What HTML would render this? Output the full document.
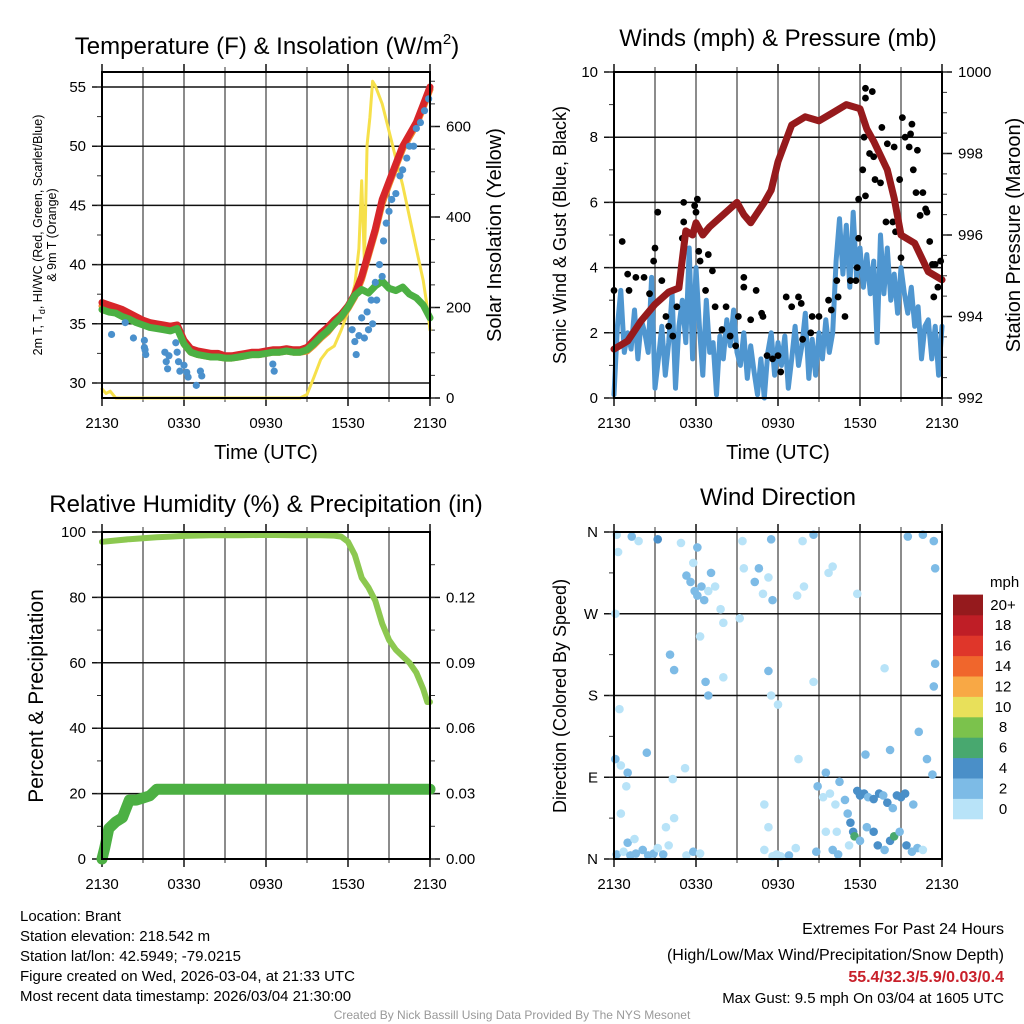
<!DOCTYPE html>
<html><head><meta charset="utf-8"><style>
html,body{margin:0;padding:0;background:#fff;}
svg{display:block;font-family:"Liberation Sans",sans-serif;}
</style></head><body>
<svg id="c" width="1024" height="1024" viewBox="0 0 1024 1024" xmlns="http://www.w3.org/2000/svg">
<g id="g"></g>
<text x="267" y="54" font-size="24" text-anchor="middle">Temperature (F) &amp; Insolation (W/m<tspan font-size="15" dy="-10">2</tspan><tspan dy="10">)</tspan></text>
<text x="778" y="46" font-size="24" text-anchor="middle">Winds (mph) &amp; Pressure (mb)</text>
<text x="266" y="512" font-size="24" text-anchor="middle">Relative Humidity (%) &amp; Precipitation (in)</text>
<text x="778" y="505" font-size="24" text-anchor="middle">Wind Direction</text>
<text transform="translate(42,235) rotate(-90)" font-size="12.5" text-anchor="middle">2m T, T<tspan font-size="9" dy="3">d</tspan><tspan dy="-3">, HI/WC (Red, Green, Scarlet/Blue)</tspan></text>
<text transform="translate(56,235) rotate(-90)" font-size="12.5" text-anchor="middle">&amp; 9m T (Orange)</text>
<text transform="translate(501,235) rotate(-90)" font-size="20" text-anchor="middle">Solar Insolation (Yellow)</text>
<text transform="translate(566,235) rotate(-90)" font-size="18" text-anchor="middle">Sonic Wind &amp; Gust (Blue, Black)</text>
<text transform="translate(1020,235) rotate(-90)" font-size="20" text-anchor="middle">Station Pressure (Maroon)</text>
<text transform="translate(43,696) rotate(-90)" font-size="21" text-anchor="middle">Percent &amp; Precipitation</text>
<text transform="translate(566,696) rotate(-90)" font-size="18" text-anchor="middle">Direction (Colored By Speed)</text>
<text x="266" y="459" font-size="20" text-anchor="middle">Time (UTC)</text>
<text x="778" y="459" font-size="20" text-anchor="middle">Time (UTC)</text>
<text x="990" y="587" font-size="15" text-anchor="start">mph</text>
<g font-size="15">
<text x="20" y="921">Location: Brant</text>
<text x="20" y="941">Station elevation: 218.542 m</text>
<text x="20" y="961">Station lat/lon: 42.5949; -79.0215</text>
<text x="20" y="981">Figure created on Wed, 2026-03-04, at 21:33 UTC</text>
<text x="20" y="1001">Most recent data timestamp: 2026/03/04 21:30:00</text>
</g>
<g font-size="16" text-anchor="end">
<text x="1004" y="934">Extremes For Past 24 Hours</text>
<text x="1004" y="960">(High/Low/Max Wind/Precipitation/Snow Depth)</text>
<text x="1004" y="982" fill="#c8202a" font-weight="bold">55.4/32.3/5.9/0.03/0.4</text>
<text x="1004" y="1003" font-size="15">Max Gust: 9.5 mph On 03/04 at 1605 UTC</text>
</g>
<text x="512" y="1019" font-size="12" fill="#999" text-anchor="middle">Created By Nick Bassill Using Data Provided By The NYS Mesonet</text>
</svg>
<script>
// ---- data (hours since 2130 UTC) ----
const timeTicks=["2130","0330","0930","1530","2130"];
const tempHours=[0,0.5,1,1.5,2,2.5,3,3.5,4,4.5,5,5.5,6,6.5,7,7.5,8,8.5,9,9.5,10,10.5,11,11.5,12,12.5,13,13.5,14,14.5,15,15.5,16,16.5,17,17.5,18,18.5,19,19.5,20,20.5,21,21.5,22,22.5,23,23.5,24];
const tempRed=[36.8,36.6,36.4,36.2,35.9,35.6,35.3,35.1,35,34.9,34.8,34.9,33.6,32.9,32.7,32.6,32.5,32.5,32.3,32.3,32.4,32.5,32.6,32.6,32.7,32.8,32.8,32.9,32.8,32.8,33.0,33.6,34.2,34.7,35.3,35.8,36.5,37.5,39,41,43,45.5,47,48.5,50,51,52,53.5,55];
const tempOrange=[36.5,36.3,36.1,35.9,35.6,35.3,35.1,34.9,34.8,34.7,34.6,34.7,33.3,32.6,32.4,32.3,32.2,32.2,32.1,32.1,32.2,32.3,32.4,32.4,32.5,32.6,32.6,32.7,32.6,32.6,32.7,33.2,33.8,34.3,35.0,35.5,36.3,37.3,38.8,40.8,42.8,45.2,46.8,48.3,49.8,50.8,51.8,53.3,54.8];
const tempGreen=[36.2,36.0,35.9,35.6,35.4,35.1,34.9,34.7,34.6,34.5,34.4,34.6,33.3,32.6,32.4,32.3,32.2,32.2,32.1,32.1,32.2,32.3,32.4,32.4,32.5,32.6,32.6,32.7,32.6,32.6,32.8,33.3,33.9,34.4,35.0,35.6,36.4,37.4,37.9,37.6,38.2,38.6,38.0,37.8,38.1,37.5,37.2,36.6,35.5];
const chillHours=[0.7,1.7,2.3,3.1,3.1,3.2,3.15,4.6,4.7,4.8,4.9,5.4,5.5,5.6,5.7,6.0,6.2,6.3,6.9,7.3,7.2,12.5,12.6,18.3,18.5,18.6,18.8,19.0,19.2,19.4,19.5,19.7,19.8,20.0,20.1,20.3,20.5,20.6,20.8,21,21.2,21.5,21.8,22,22.3,22.5,22.8,23,23.3,23.6,23.9];
const chillVals=[34.1,35.1,33.8,33.6,33.0,32.4,32.8,32.6,31.8,31.2,32.3,33.4,32.6,31.8,31.0,31.5,30.9,30.5,29.8,30.6,31.0,31.6,31.0,34.5,33.5,32.4,34,35.5,33.8,36,34.5,37,35,38.5,37,40,39,42,43.5,44.5,45.5,46,47.5,48,49,50,50,51.5,52,53,54];
const insolHours=[0,0.3,0.6,1,14.5,15,15.5,16,16.5,17,17.5,18,18.5,18.8,19,19.2,19.4,19.6,19.8,20,20.5,21,21.5,22,22.5,23,23.5,23.8,24];
const insolVals=[20,10,15,0,0,8,45,85,105,115,150,190,250,330,480,300,560,620,700,690,650,590,530,470,400,330,260,200,150];
const windVals=[0.1,2.2,3.3,1.4,2,1.5,2.7,1.2,2.4,2,1.4,3.7,0.3,1.2,2.2,0.7,1.7,3.2,0.3,2.2,3,1.7,4.6,1.2,4,2.2,0.7,3,1.4,1.7,0.1,1.9,1.2,2.4,1.6,2.7,1.4,1,2,0.6,1.6,0.8,0.1,1.2,0,1.4,2,0.7,1.7,1,1.9,0.3,1.2,2.2,1,1.6,2.6,0.6,1.8,0.7,2,1.2,2.4,1.4,2,4.2,5.5,3.8,5.3,3.4,5.7,3.7,4.6,3.4,4.4,3.2,4.2,1.7,5,3.2,4.6,3,3.8,2.6,4,3.2,2.6,3.4,2.2,2.8,1.2,2.2,2.4,1.2,2.2,0.7,2.2];
const gustHours=[0,0.6,1,1.6,1.1,2.2,2.6,3,3.2,2.9,3.5,3.8,4,4.3,4.6,5.1,5.1,5,5.9,6.1,6,6.2,6.3,6.9,7.2,6.7,7.4,8.2,7.9,8.5,8.9,9.1,9.5,9.5,10,10.4,10.8,10.9,11.2,11.6,12,12.2,12.6,13,13.5,13.7,13.8,14.5,15,14.4,15.7,15.9,16.3,16.4,16.9,17.3,17.7,17.8,17.9,17.9,18.2,18.3,18.4,18.7,18.4,18.4,18.9,19,19.1,19.5,19.6,20,19.9,20.4,20.5,20.6,20.9,21,21.1,21.3,21.6,21.7,21.8,22.2,21.9,22.1,22.6,22.4,22.8,22.9,23.1,23.3,23.5,23.7,23.4,23.9];
const gustVals=[3.3,4.8,3.8,3.7,3.3,3.7,3.2,4.6,5.7,4.2,3.6,2.5,2.2,1.9,2.8,6,5.4,4.9,5.9,6.1,5.7,4.5,4.2,4.4,3.9,3.3,2.8,2.8,2.1,1.9,1.6,2.5,3.7,3.4,2.4,3.3,2.6,2.5,1.3,1.2,1.3,0.8,3.1,2.8,3.1,2.9,1.8,2.5,2.5,2,3,2.7,3.6,3.1,2.5,3.6,3.6,4,4.9,6.1,7,8,6.2,7.5,9.2,9.5,9.4,7.4,6.7,6.6,8.3,7.8,5.4,5.4,7.7,5.1,6.7,4.3,8.6,8,7.7,8.1,8.4,7.6,7,6.3,6.3,5.6,5.8,5.7,4.8,4.1,4.1,3.4,3.1,4.2];
const presHours=[0,1,2,3,4,4.75,5,5.25,5.75,6,6.5,7,8,9,9.5,10,11,11.5,12,13,14,15,16,17,18,18.5,19,20,20.5,21,22,23,24];
const presVals=[993.2,993.4,993.9,994.3,994.6,994.7,995.4,996.1,996,996.3,996,996.2,996.5,996.8,996.5,996.3,996.8,997.1,997.8,998.7,998.9,998.8,999,999.2,999.1,998.6,998.3,997.6,996.9,996,995.8,995.1,994.9];
const rhHours=[0,1,2,3,4,5,6,8,10,12,14,16,17,17.5,18,18.5,19,19.5,20,20.5,21,21.5,22,22.5,23,23.5,23.8,24];
const rhVals=[97,97.4,97.8,98.1,98.4,98.6,98.8,99,99,99.1,99,99,98.9,98.6,97,93,86,83,79,72,67,64,62,60,57,52,48,48];
const precipHours=[0,0.2,0.5,1,1.5,2,2.5,3,3.5,4,24];
const precipVals=[0,0.005,0.014,0.017,0.019,0.027,0.027,0.028,0.029,0.032,0.032];
const dirHours=[0.2,1.3,1.8,3.2,4.9,6.1,9.4,11.5,13.8,14.6,21.5,22.6,23.4,0.3,5.8,9.5,5.3,5.6,5.9,6.1,6.4,6.6,6.9,7.1,7.4,7.8,8.0,10.3,10.6,10.9,11.3,11.6,13.4,13.9,15.7,16.0,17.8,23.5,0.1,9.2,6.3,4.4,4.1,6.7,6.9,8.0,11.3,11.5,12.0,23.4,23.5,14.6,19.8,0.4,0.1,0.5,1.0,0.9,2.4,4.3,5.2,13.5,15.5,18.4,20.2,22.9,23.3,22.3,21.9,14.9,15.3,15.8,16.2,16.5,16.9,17.1,17.3,17.5,17.8,18.0,18.3,18.6,19.0,19.4,19.7,20.0,20.4,20.7,21.0,21.3,17.6,18.0,18.5,19.0,19.3,19.8,20.2,20.5,20.9,21.4,21.8,22.2,22.6,16.0,14.8,16.4,17.2,15.5,0.2,0.7,1.2,1.6,2.1,2.5,2.9,3.2,3.6,1.0,1.5,3.8,4.0,5.3,5.8,6.3,4.4,0.5,11.0,11.6,11.9,12.2,11.3,11.0,12.8,13.3,16.3];
const dirDeg=[357,355,350,352,348,343,350,352,350,357,355,357,350,338,326,320,312,305,295,290,300,285,295,315,300,275,260,305,320,292,310,285,290,300,315,322,292,320,270,265,245,208,225,195,180,200,207,180,170,190,215,195,210,165,110,103,95,80,117,88,100,110,95,115,120,110,93,140,60,80,68,72,60,85,65,50,40,30,75,70,72,68,66,72,70,62,56,70,68,72,25,20,35,30,15,10,20,25,30,15,8,12,10,10,8,5,15,30,5,8,4,6,10,4,6,12,5,18,22,35,15,4,8,6,45,50,10,3,5,3,35,60,4,12,30];
const dirSpeed=[1,2,1,4,1,2,1,2,1,2,2,3,2,1,1,1,3,3,3,3,2,3,1,2,1,1,1,2,2,1,1,2,1,1,1,1,1,2,1,1,1,2,2,3,3,1,2,1,1,2,2,1,1,1,2,1,3,1,2,1,1,1,2,2,2,2,2,3,2,2,1,1,1,2,2,3,4,4,5,4,4,3,4,4,3,4,3,4,5,4,6,3,2,4,4,3,4,6,3,4,3,2,1,3,2,2,1,1,2,1,3,2,2,3,2,1,3,2,1,1,1,1,2,1,1,1,1,1,1,1,1,1,3,1,1];
const cbLabels=["0","2","4","6","8","10","12","14","16","18","20+"];
const cbColors=["#b8e3f8","#7dbbe6","#4a8fc8","#48a86f","#7bc24c","#e8e05a","#f8a845","#f0662c","#df362a","#bf1e26","#951a1d"];

// ---- helpers ----
const NS="http://www.w3.org/2000/svg";
const G=document.getElementById('g');
function mk(tag,attrs,name){
  const el=document.createElementNS(NS,tag);
  for(const k in attrs) el.setAttribute(k,attrs[k]);
  
  
  G.appendChild(el);return el;
}
function txt(x,y,s,size,anchor,name){const t=mk('text',{x:x,y:y,'font-size':size,'text-anchor':anchor},name);t.textContent=s;return t;}
function lin(x1,y1,x2,y2,stroke,w,name){return mk('line',{x1:x1,y1:y1,x2:x2,y2:y2,stroke:stroke,'stroke-width':w},name);}
function poly(xs,ys,fx,fy,color,w,name){
  const pts=xs.map((h,i)=>fx(h).toFixed(1)+','+fy(ys[i]).toFixed(1)).join(' ');
  return mk('polyline',{points:pts,fill:'none',stroke:color,'stroke-width':w,'stroke-linejoin':'round','stroke-linecap':'round'},name);
}
function panel(x0,x1,y0,y1,leftVals,leftY,leftLab,rightVals,rightY,rightLab,minorL,minorR,prefix){
  for(let h=0;h<=24;h+=3){const x=x0+(x1-x0)*h/24;lin(x,y0,x,y1,'#666',1.5,prefix+'-vgrid');}
  leftVals.forEach((v,i)=>{const y=leftY(v);lin(x0-10,y,x1,y,'#111',1.5,prefix+'-hgrid');txt(x0-16,y+5,leftLab[i],15,'end',prefix+'-left-tick-label');});
  minorL.forEach(v=>{const y=leftY(v);lin(x0-5,y,x0,y,'#333',1,prefix+'-minor-tick');});
  if(rightVals){rightVals.forEach((v,i)=>{const y=rightY(v);lin(x1,y,x1+10,y,'#111',1.5,prefix+'-right-tick');txt(x1+16,y+5,rightLab[i],15,'start',prefix+'-right-tick-label');});
    minorR.forEach(v=>{const y=rightY(v);lin(x1,y,x1+5,y,'#333',1,prefix+'-right-minor-tick');});}
  timeTicks.forEach((s,i)=>{const x=x0+(x1-x0)*i/4;lin(x,y1,x,y1+8,'#111',1.5,prefix+'-x-tick');txt(x,y1+30,s,15,'middle',prefix+'-x-tick-label');});
  for(let h=3;h<24;h+=6){const x=x0+(x1-x0)*h/24;lin(x,y1,x,y1+4,'#333',1,prefix+'-x-minor-tick');lin(x,y0,x,y0-5,'#333',1,prefix+'-x-minor-tick');}
  for(let i=0;i<=4;i++){const x=x0+(x1-x0)*i/4;lin(x,y0,x,y0-8,'#111',1.5,prefix+'-x-top-tick');}
}
function frame(x0,x1,y0,y1,prefix){mk('rect',{x:x0,y:y0,width:x1-x0,height:y1-y0,fill:'none',stroke:'#000','stroke-width':2},prefix+'-frame');}

// ---- Panel 1: Temperature ----
(function(){
  const x0=102,x1=430,y0=72,y1=398;
  const fx=h=>x0+(x1-x0)*h/24;
  const fT=t=>87+(55-t)*11.84;
  const fI=v=>398-v*0.4525;
  const minor=[];for(let t=30;t<=55;t+=2.5)minor.push(t);
  const minR=[];for(let v=0;v<=700;v+=50)minR.push(v);
  panel(x0,x1,y0,y1,[30,35,40,45,50,55],fT,["30","35","40","45","50","55"],[0,200,400,600],fI,["0","200","400","600"],minor,minR,'temp');
  poly(insolHours,insolVals,fx,fI,'#f6e04a',3,'insolation-line');
  poly(tempHours,tempOrange,fx,fT,'#f08a2c',7,'temp-9m-line');
  poly(tempHours,tempRed,fx,fT,'#d7262a',7,'temp-2m-line');
  poly(tempHours,tempGreen,fx,fT,'#4cb043',7,'dewpoint-line');
  chillHours.forEach((h,i)=>{mk('circle',{cx:fx(h),cy:fT(chillVals[i]),r:3.6,fill:'#4a90cc'},'windchill-point');});
  frame(x0,x1,y0,y1,'temp');
})();

// ---- Panel 2: Winds ----
(function(){
  const x0=614,x1=942,y0=72,y1=398;
  const fx=h=>x0+(x1-x0)*h/24;
  const fW=w=>398-w*32.6;
  const fP=p=>398-(p-992)*40.75;
  const minor=[];for(let w=0;w<=10;w+=1)minor.push(w);
  const minR=[];for(let p=992;p<=1000;p+=0.5)minR.push(p);
  panel(x0,x1,y0,y1,[0,2,4,6,8,10],fW,["0","2","4","6","8","10"],[992,994,996,998,1000],fP,["992","994","996","998","1000"],minor,minR,'wind');
  const wh=windVals.map((v,i)=>i*24/(windVals.length-1));
  poly(wh,windVals,fx,fW,'#4f96d0',5,'wind-speed-line');
  gustHours.forEach((h,i)=>{mk('circle',{cx:fx(h),cy:fW(gustVals[i]),r:3.4,fill:'#000'},'gust-point');});
  poly(presHours,presVals,fx,fP,'#961a1c',7,'pressure-line');
  frame(x0,x1,y0,y1,'wind');
})();

// ---- Panel 3: RH & Precip ----
(function(){
  const x0=102,x1=430,y0=532,y1=859;
  const fx=h=>x0+(x1-x0)*h/24;
  const fR=v=>859-v*3.27;
  const fPr=v=>859-v*2180;
  const minor=[];for(let v=0;v<=100;v+=10)minor.push(v);
  const minR=[];for(let v=0;v<=0.15;v+=0.015)minR.push(v);
  panel(x0,x1,y0,y1,[0,20,40,60,80,100],fR,["0","20","40","60","80","100"],[0,0.03,0.06,0.09,0.12],fPr,["0.00","0.03","0.06","0.09","0.12"],minor,minR,'rh');
  poly(rhHours,rhVals,fx,fR,'#8cc850',6,'rh-line');
  poly(precipHours,precipVals,fx,fPr,'#4cb043',11,'precip-line');
  frame(x0,x1,y0,y1,'rh');
})();

// ---- Panel 4: Wind Direction ----
(function(){
  const x0=614,x1=942,y0=532,y1=859;
  const fx=h=>x0+(x1-x0)*h/24;
  const fD=d=>859-d*0.9083;
  const minor=[];for(let d=0;d<=360;d+=45)minor.push(d);
  panel(x0,x1,y0,y1,[0,90,180,270,360],fD,["N","E","S","W","N"],null,null,null,minor,null,'dir');
  dirHours.forEach((h,i)=>{
    const b=Math.min(10,Math.floor(dirSpeed[i]/2));
    mk('circle',{cx:fx(h),cy:fD(dirDeg[i]),r:4.3,fill:cbColors[b]},'direction-point');
  });
  frame(x0,x1,y0,y1,'dir');
  const cy0=819,ch=20.4;
  cbColors.forEach((c,i)=>{
    mk('rect',{x:953,y:cy0-(i+1)*ch,width:30,height:ch+0.3,fill:c},'colorbar-segment');
    txt(1003,cy0-(i+0.5)*ch+5,cbLabels[i],15,'middle','colorbar-label');
  });
})();
</script>
</body></html>
